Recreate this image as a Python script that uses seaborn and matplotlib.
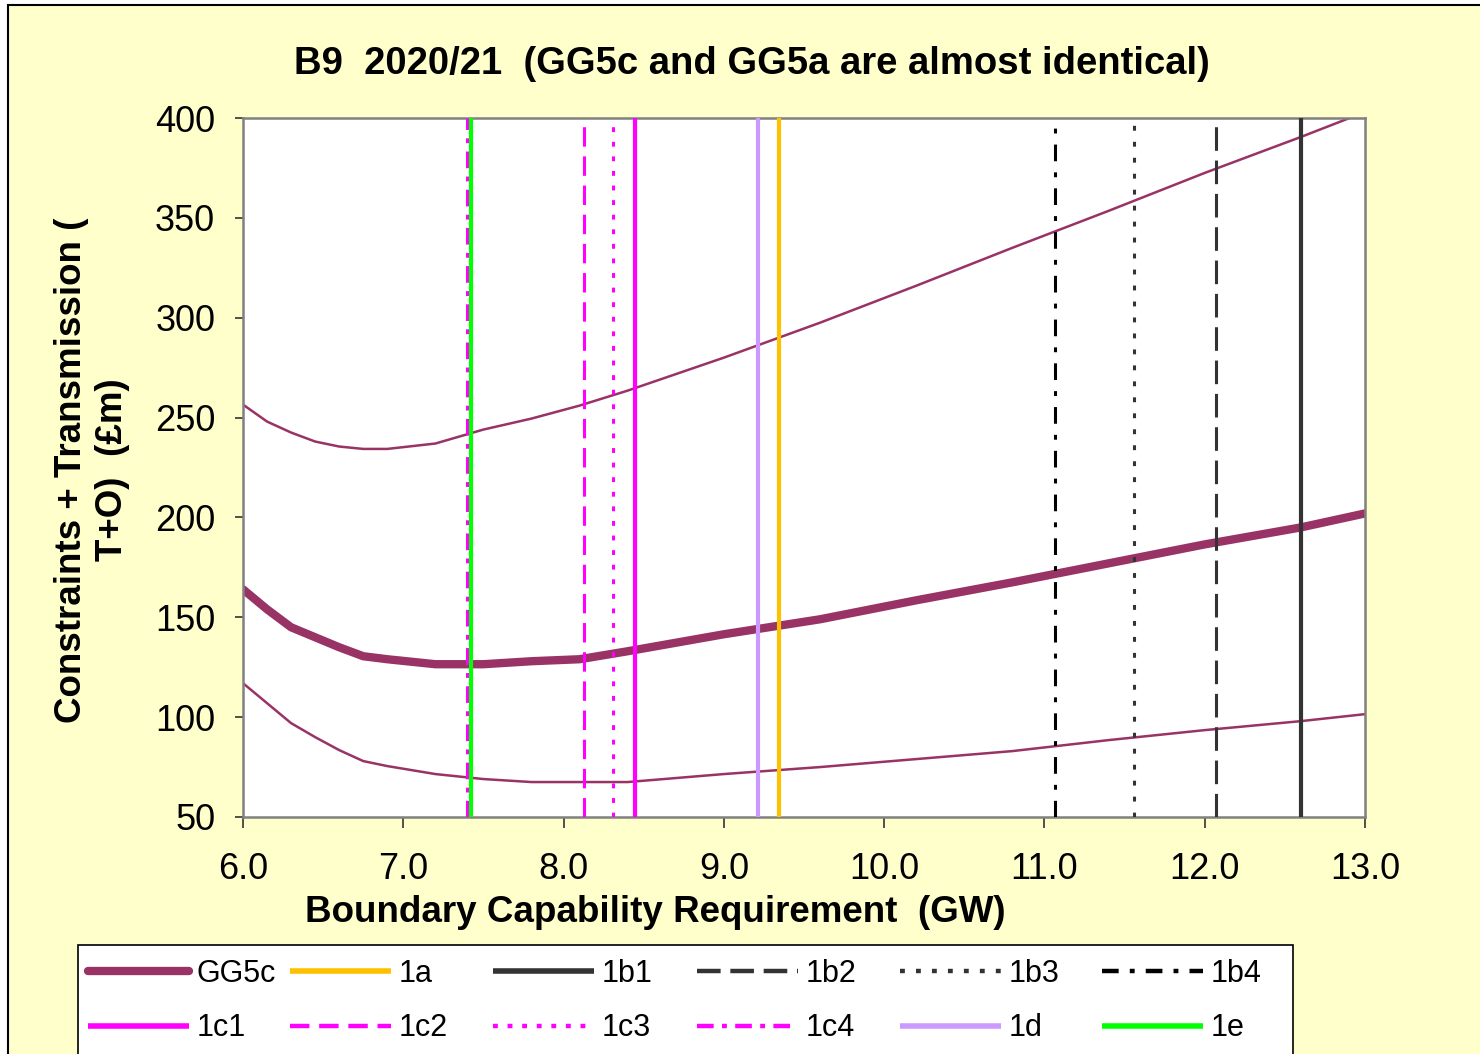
import matplotlib
matplotlib.use("Agg")
import pandas as pd
import seaborn as sns
from matplotlib import pyplot as plt
from matplotlib.lines import Line2D
from matplotlib.patches import Rectangle

# boundary capability (GW) grid and cost curves (GBP m)
capability_gw = [6.0, 6.15, 6.3, 6.45, 6.6, 6.75, 6.9, 7.2, 7.5, 7.8, 8.1, 8.4,
                 9.0, 9.6, 10.2, 10.8, 11.4, 12.0, 12.6, 13.0]
gg5c_cost = [164, 154, 145, 140, 135, 130.5, 129, 126.5, 126.5, 128, 129, 133,
             141.5, 149, 158.5, 167.5, 177, 186.5, 195, 202]
upper_cost = [256.5, 248, 242.5, 238, 235.5, 234.3, 234.3, 237, 244, 249.5, 256, 263.5,
              280, 297.5, 316, 335, 353.5, 372.5, 390.5, 403]
lower_cost = [117, 107, 97, 90, 83.5, 78, 75.5, 71.5, 69, 67.5, 67.5, 67.5,
              71.5, 75, 79, 83, 88.5, 93.5, 98, 101.5]

# background scenario requirement markers (GW)
scenario_names = ["1a", "1b1", "1b2", "1b3", "1b4", "1c1", "1c2", "1c3", "1c4", "1d", "1e"]
scenario_gw = [9.345, 12.60, 12.07, 11.56, 11.065, 8.445, 8.13, 8.31, 7.40, 9.21, 7.42]

x_ticks = [6.0, 7.0, 8.0, 9.0, 10.0, 11.0, 12.0, 13.0]
y_ticks = [50, 100, 150, 200, 250, 300, 350, 400]

CURVE = "#993366"
styles = {
    "1a": ("#FFC000", 3.0, (0, ())),
    "1b1": ("#333333", 3.0, (0, ())),
    "1b2": ("#333333", 2.2, (0, (17, 7))),
    "1b3": ("#333333", 2.2, (0, (3.5, 8))),
    "1b4": ("#000000", 2.2, (0, (12, 8, 3.5, 8))),
    "1c1": ("#FF00FF", 3.0, (0, ())),
    "1c2": ("#FF00FF", 2.2, (0, (14, 7))),
    "1c3": ("#FF00FF", 2.2, (0, (3.5, 7))),
    "1c4": ("#FF00FF", 2.2, (0, (12, 6, 3.5, 6))),
    "1d": ("#CC99FF", 3.0, (0, ())),
    "1e": ("#00FF00", 3.0, (0, ())),
}

sns.set_style("ticks")
plt.rcParams["font.family"] = ["Liberation Sans", "DejaVu Sans"]
plt.rcParams["lines.scale_dashes"] = False
plt.rcParams["text.color"] = "black"
plt.rcParams["xtick.labelcolor"] = "black"
plt.rcParams["ytick.labelcolor"] = "black"

fig = plt.figure(figsize=(14.8, 10.54), dpi=100, facecolor="white")
W, H = 1480, 1054
fig.patches.append(Rectangle((8 / W, -0.1), 1.2, 1 - 5 / H + 0.1, transform=fig.transFigure,
                             facecolor="#FFFFCC", edgecolor="black", lw=1.5, zorder=-5))

ax = fig.add_axes([243 / W, 1 - 817 / H, (1365 - 243) / W, (817 - 118) / H])
ax.set_facecolor("white")

df = pd.DataFrame({"gw": capability_gw, "gg5c": gg5c_cost,
                   "upper": upper_cost, "lower": lower_cost})
sns.lineplot(data=df, x="gw", y="upper", color=CURVE, lw=1.8, ax=ax)
sns.lineplot(data=df, x="gw", y="lower", color=CURVE, lw=1.8, ax=ax)
sns.lineplot(data=df, x="gw", y="gg5c", color=CURVE, lw=6, ax=ax)

for name, gw in zip(scenario_names, scenario_gw):
    col, lw, ls = styles[name]
    ax.axvline(gw, color=col, lw=lw, ls=ls, zorder=5)

ax.set_xlim(6.0, 13.0)
ax.set_ylim(50, 400)
ax.set_xticks(x_ticks)
ax.set_xticklabels([f"{t:.1f}" for t in x_ticks])
ax.set_yticks(y_ticks)
ax.tick_params(axis="both", labelsize=26, direction="out", color="#333333",
               labelcolor="black")
ax.tick_params(axis="x", length=8, width=1.2, pad=17)
ax.tick_params(axis="y", length=6, width=1.2, pad=14)
ax.set_xlabel("")
ax.set_ylabel("")
for sp in ax.spines.values():
    sp.set_visible(True)
    sp.set_color("#808080")
    sp.set_linewidth(1.8)

fig.text(752 / W, 1 - 64 / H, "B9  2020/21  (GG5c and GG5a are almost identical)",
         ha="center", va="center", fontsize=27.5, fontweight="bold")
fig.text(655 / W, 1 - 913 / H, "Boundary Capability Requirement  (GW)",
         ha="center", va="center", fontsize=26.5, fontweight="bold")
fig.text(92 / W, 1 - 470 / H, "Constraints + Transmission (\nT+O)  (£m)",
         ha="center", va="center", rotation=90, fontsize=26.5, fontweight="bold",
         multialignment="center", linespacing=1.2)

# legend: frame plus one two-row legend per column
fig.patches.append(Rectangle((78 / W, -0.1), (1293 - 78) / W, 1 - 945 / H + 0.1,
                             transform=fig.transFigure, facecolor="white",
                             edgecolor="black", lw=1.2, zorder=-4))
columns = [("GG5c", "1c1"), ("1a", "1c2"), ("1b1", "1c3"),
           ("1b2", "1c4"), ("1b3", "1d"), ("1b4", "1e")]
col_x = [88, 290, 493, 697, 900, 1102]
for (top, bottom), cx in zip(columns, col_x):
    handles = []
    for name in (top, bottom):
        if name == "GG5c":
            handles.append(Line2D([], [], color=CURVE, lw=6))
        else:
            col, lw, ls = styles[name]
            handles.append(Line2D([], [], color=col, lw=lw + 1, ls=ls))
    leg = fig.legend(handles, [top, bottom], loc="upper left",
                     bbox_to_anchor=(cx / W, 1 - 959 / H), frameon=False,
                     fontsize=22, handlelength=3.3, handletextpad=0.25,
                     labelspacing=0.8, borderpad=0, borderaxespad=0)

fig.savefig("out.png", dpi=100, facecolor=fig.get_facecolor())
